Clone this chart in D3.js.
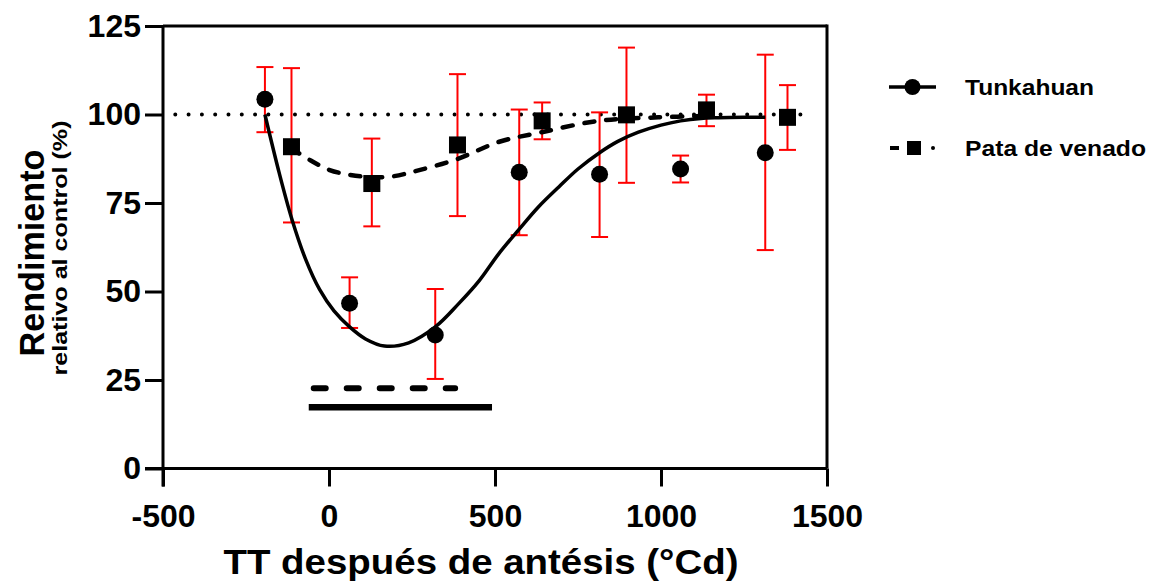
<!DOCTYPE html>
<html>
<head>
<meta charset="utf-8">
<script src="https://cdn.jsdelivr.net/npm/d3@7/dist/d3.min.js"></script>
<style>
  html, body { margin: 0; padding: 0; background: #fff; }
  svg { display: block; }
  text { font-family: "Liberation Sans", Arial, sans-serif; font-weight: bold; fill: #000; }
</style>
</head>
<body>
<svg id="chart" width="1149" height="583"></svg>
<script>
// ---- Data ----
const seriesNames = ["Tunkahuan", "Pata de venado"];

// Tunkahuan (circles)
const tunkX    = [-193, 62, 320, 573, 815, 1059, 1314];
const tunkY    = [104.3, 46.7, 37.7, 83.7, 83.1, 84.6, 89.2];
const tunkHigh = [113.4, 54.0, 50.7, 101.4, 100.6, 88.4, 116.9];
const tunkLow  = [95.0, 39.7, 25.3, 65.9, 65.4, 80.8, 61.7];

// Pata de venado (squares)
const pataX    = [-113, 129, 387, 642, 896, 1137, 1381];
const pataY    = [90.9, 80.5, 91.4, 98.2, 99.9, 101.3, 99.2];
const pataHigh = [113.1, 93.2, 111.4, 103.4, 118.9, 105.6, 108.3];
const pataLow  = [69.5, 68.4, 71.3, 93.0, 80.7, 96.7, 90.0];

// Fitted curves
const tunkFitX = [-193, -150, -112, -70, -28, 15, 62, 110, 167, 240, 320, 390, 452, 510, 573, 630, 693, 750, 815, 870, 932, 1000, 1059, 1120, 1173, 1250, 1314];
const tunkFitY = [100, 83.5, 70.5, 59, 50.5, 44.5, 40, 36.6, 34.6, 35.5, 40, 46.5, 53, 60.5, 67.6, 73.8, 79.6, 84.6, 89.2, 92.4, 95, 97, 98.2, 98.9, 99.1, 99.2, 99.2];
const pataFitX = [-115, -55, 2, 60, 125, 190, 272, 386, 513, 641, 812, 992, 1137];
const pataFitY = [90.5, 87, 84.3, 83, 82.3, 82.5, 84.3, 87.4, 92.3, 95.0, 98.2, 99.2, 99.6];

// Reference line (100 %)
const refX = [-463, 1452];
const refY = [100, 100];

// Significance bars
const barSolidX = [-61, 491];
const barSolidY = [17.3, 17.3];
const barDashX  = [-46, 380];
const barDashY  = [22.7, 22.7];

// Axes
const xTicks = [-500, 0, 500, 1000, 1500];
const yTicks = [0, 25, 50, 75, 100, 125];
const xTitle = "TT después de antésis (°Cd)";
const yTitle = "Rendimiento";
const ySubTitle = "relativo al control (%)";

// ---- Drawing ----
const svg = d3.select("#chart");
const x = d3.scaleLinear().domain([-500, 1500]).range([163, 827]);
const y = d3.scaleLinear().domain([0, 125]).range([468.5, 26]);
const red = "#ff0000";

// Frame: top and right borders
svg.append("line").attr("x1", x(-500)).attr("x2", x(1500)).attr("y1", y(125)).attr("y2", y(125))
  .attr("stroke", "#000").attr("stroke-width", 3);
svg.append("line").attr("x1", x(1500)).attr("x2", x(1500)).attr("y1", y(125) - 1.5).attr("y2", y(0))
  .attr("stroke", "#000").attr("stroke-width", 3);

// Axes
const gx = svg.append("g").attr("transform", `translate(0,${y(0)})`)
  .call(d3.axisBottom(x).tickValues(xTicks).tickFormat(d3.format("d")).tickSize(18).tickSizeOuter(0).tickPadding(18));
const gy = svg.append("g").attr("transform", `translate(${x(-500)},0)`)
  .call(d3.axisLeft(y).tickValues(yTicks).tickSize(18).tickSizeOuter(0).tickPadding(4));
[gx, gy].forEach(g => {
  g.select(".domain").attr("stroke", "#000").attr("stroke-width", 3);
  g.selectAll(".tick line").attr("stroke", "#000").attr("stroke-width", 3);
  g.selectAll(".tick text").attr("font-size", 32).attr("font-family", "Liberation Sans, Arial, sans-serif")
    .attr("font-weight", "bold").attr("fill", "#000");
});
gx.select(".domain").attr("d", `M${x(-500) - 18},0H${x(1500)}`);
gy.select(".domain").attr("d", `M0,${y(125)}V${y(0) + 18}`);
gx.selectAll(".tick text").text(d => d3.format("d")(d).replace("−", "-"));

// Reference dotted line
const line = d3.line().x(d => x(d[0])).y(d => y(d[1]));
svg.append("path").datum(d3.zip(refX, refY)).attr("d", line)
  .attr("fill", "none").attr("stroke", "#000").attr("stroke-width", 4)
  .attr("stroke-linecap", "round").attr("stroke-dasharray", "0,13.3");

// Error bars
function errorBars(xs, lo, hi) {
  const g = svg.append("g").attr("stroke", red).attr("stroke-width", 2).attr("fill", "none");
  xs.forEach((xv, i) => {
    g.append("line").attr("x1", x(xv)).attr("x2", x(xv)).attr("y1", y(lo[i])).attr("y2", y(hi[i]));
    g.append("line").attr("x1", x(xv) - 8.5).attr("x2", x(xv) + 8.5).attr("y1", y(lo[i])).attr("y2", y(lo[i]));
    g.append("line").attr("x1", x(xv) - 8.5).attr("x2", x(xv) + 8.5).attr("y1", y(hi[i])).attr("y2", y(hi[i]));
  });
}
errorBars(tunkX, tunkLow, tunkHigh);
errorBars(pataX, pataLow, pataHigh);

// Fitted curves
const smooth = d3.line().x(d => x(d[0])).y(d => y(d[1])).curve(d3.curveCatmullRom.alpha(0.5));
svg.append("path").datum(d3.zip(tunkFitX, tunkFitY)).attr("d", smooth)
  .attr("fill", "none").attr("stroke", "#000").attr("stroke-width", 3.5);
svg.append("path").datum(d3.zip(pataFitX, pataFitY)).attr("d", smooth)
  .attr("fill", "none").attr("stroke", "#000").attr("stroke-width", 4.5)
  .attr("stroke-linecap", "round").attr("stroke-dasharray", "10,12");

// Significance bars
svg.append("path").datum(d3.zip(barSolidX, barSolidY)).attr("d", line)
  .attr("fill", "none").attr("stroke", "#000").attr("stroke-width", 6.5);
svg.append("path").datum(d3.zip(barDashX, barDashY)).attr("d", line)
  .attr("fill", "none").attr("stroke", "#000").attr("stroke-width", 6)
  .attr("stroke-linecap", "round").attr("stroke-dasharray", "12,21");

// Markers
svg.append("g").selectAll("circle").data(d3.zip(tunkX, tunkY)).join("circle")
  .attr("cx", d => x(d[0])).attr("cy", d => y(d[1])).attr("r", 8.5).attr("fill", "#000");
svg.append("g").selectAll("rect").data(d3.zip(pataX, pataY)).join("rect")
  .attr("x", d => x(d[0]) - 8.5).attr("y", d => y(d[1]) - 8.5)
  .attr("width", 17).attr("height", 17).attr("fill", "#000");

// Axis titles
svg.append("text").attr("x", 481).attr("y", 574).attr("text-anchor", "middle")
  .attr("font-size", 35).attr("textLength", 515).attr("lengthAdjust", "spacingAndGlyphs").text(xTitle);
svg.append("text").attr("transform", "translate(44,253) rotate(-90)").attr("text-anchor", "middle")
  .attr("font-size", 35).attr("textLength", 207).attr("lengthAdjust", "spacingAndGlyphs").text(yTitle);
svg.append("text").attr("transform", "translate(67,248) rotate(-90)").attr("text-anchor", "middle")
  .attr("font-size", 21).attr("textLength", 255).attr("lengthAdjust", "spacingAndGlyphs").text(ySubTitle);

// Legend
const leg = svg.append("g");
const legY = [87, 148];
leg.append("line").attr("x1", 889).attr("x2", 936).attr("y1", legY[0]).attr("y2", legY[0])
  .attr("stroke", "#000").attr("stroke-width", 3.5);
leg.append("circle").attr("cx", 912.5).attr("cy", legY[0]).attr("r", 8).attr("fill", "#000");
leg.append("line").attr("x1", 890).attr("x2", 899).attr("y1", legY[1]).attr("y2", legY[1])
  .attr("stroke", "#000").attr("stroke-width", 4);
leg.append("rect").attr("x", 907).attr("y", legY[1] - 7).attr("width", 14).attr("height", 14).attr("fill", "#000");
leg.append("circle").attr("cx", 933).attr("cy", legY[1]).attr("r", 2).attr("fill", "#000");
const legW = [129, 181];
seriesNames.forEach((name, i) => {
  leg.append("text").attr("x", 965).attr("y", legY[i] + 8).attr("font-size", 22)
    .attr("textLength", legW[i]).attr("lengthAdjust", "spacingAndGlyphs").text(name);
});
</script>
</body>
</html>
